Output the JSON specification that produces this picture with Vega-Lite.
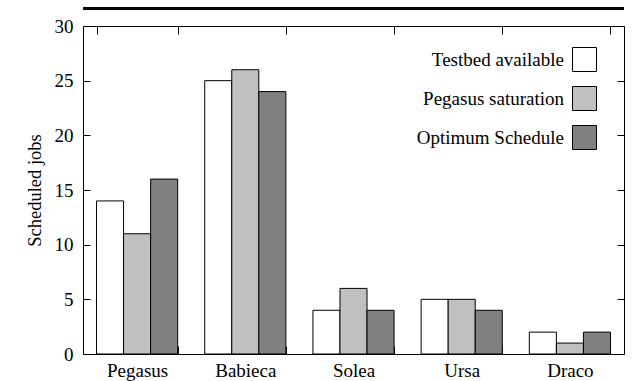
{
  "$schema": "https://vega.github.io/schema/vega-lite/v6.json",
  "autosize": {"type": "none"},
  "padding": {"left": 83, "top": 26, "right": 8, "bottom": 27},
  "width": 541,
  "height": 328,
  "config": {
    "font": "Liberation Serif",
    "view": {"stroke": "#000000", "strokeWidth": 1},
    "axis": {"labelColor": "#000000", "titleColor": "#000000", "tickColor": "#000000", "grid": false, "domain": false}
  },
  "data": {
    "values": [
      {"cluster": "Pegasus", "series": "Testbed available", "jobs": 14},
      {"cluster": "Pegasus", "series": "Pegasus saturation", "jobs": 11},
      {"cluster": "Pegasus", "series": "Optimum Schedule", "jobs": 16},
      {"cluster": "Babieca", "series": "Testbed available", "jobs": 25},
      {"cluster": "Babieca", "series": "Pegasus saturation", "jobs": 26},
      {"cluster": "Babieca", "series": "Optimum Schedule", "jobs": 24},
      {"cluster": "Solea", "series": "Testbed available", "jobs": 4},
      {"cluster": "Solea", "series": "Pegasus saturation", "jobs": 6},
      {"cluster": "Solea", "series": "Optimum Schedule", "jobs": 4},
      {"cluster": "Ursa", "series": "Testbed available", "jobs": 5},
      {"cluster": "Ursa", "series": "Pegasus saturation", "jobs": 5},
      {"cluster": "Ursa", "series": "Optimum Schedule", "jobs": 4},
      {"cluster": "Draco", "series": "Testbed available", "jobs": 2},
      {"cluster": "Draco", "series": "Pegasus saturation", "jobs": 1},
      {"cluster": "Draco", "series": "Optimum Schedule", "jobs": 2}
    ]
  },
  "layer": [
    {
      "mark": {"type": "bar", "stroke": "#000000", "strokeWidth": 1},
      "encoding": {
        "x": {
          "field": "cluster", "type": "nominal",
          "sort": ["Pegasus", "Babieca", "Solea", "Ursa", "Draco"],
          "scale": {"paddingInner": 0.25, "paddingOuter": 0.125},
          "axis": {
            "title": null, "labelAngle": 0, "labelFontSize": 19,
            "tickBand": "extent", "tickSize": -8, "labelPadding": 15
          }
        },
        "xOffset": {
          "field": "series", "type": "nominal",
          "sort": ["Testbed available", "Pegasus saturation", "Optimum Schedule"],
          "scale": {"paddingInner": 0, "paddingOuter": 0}
        },
        "y": {
          "field": "jobs", "type": "quantitative",
          "scale": {"domain": [0, 30], "nice": false},
          "axis": {
            "title": "Scheduled jobs", "titleFontSize": 18.5, "titleFontWeight": "normal",
            "titlePadding": 10,
            "values": [0, 5, 10, 15, 20, 25, 30],
            "labelFontSize": 19, "tickSize": -7, "labelPadding": 17
          }
        },
        "fill": {
          "field": "series", "type": "nominal",
          "scale": {
            "domain": ["Testbed available", "Pegasus saturation", "Optimum Schedule"],
            "range": ["#ffffff", "#c0c0c0", "#808080"]
          },
          "legend": {
            "title": null, "orient": "none", "legendX": 489, "legendY": 21,
            "padding": 0, "symbolType": "square", "symbolSize": 576,
            "symbolStrokeColor": "#000000", "symbolStrokeWidth": 1, "symbolOpacity": 1,
            "labelAlign": "right", "labelOffset": -33, "labelFontSize": 19,
            "labelColor": "#000000", "labelLimit": 300, "rowPadding": 10
          }
        }
      }
    },
    {
      "mark": {"type": "bar", "opacity": 0},
      "encoding": {
        "x": {
          "field": "cluster", "type": "nominal",
          "sort": ["Pegasus", "Babieca", "Solea", "Ursa", "Draco"],
          "axis": {"orient": "top", "title": null, "labels": false, "tickBand": "extent", "tickSize": -8}
        },
        "y": {
          "field": "jobs", "type": "quantitative", "stack": null,
          "axis": {"orient": "right", "title": null, "labels": false, "tickSize": -7, "values": [0, 5, 10, 15, 20, 25, 30]}
        }
      }
    },
    {
      "mark": {"type": "rule", "color": "#000000", "strokeWidth": 2.5, "clip": false},
      "encoding": {"y": {"datum": 31.6, "axis": null}}
    }
  ],
  "resolve": {"axis": {"x": "independent", "y": "independent"}}
}
